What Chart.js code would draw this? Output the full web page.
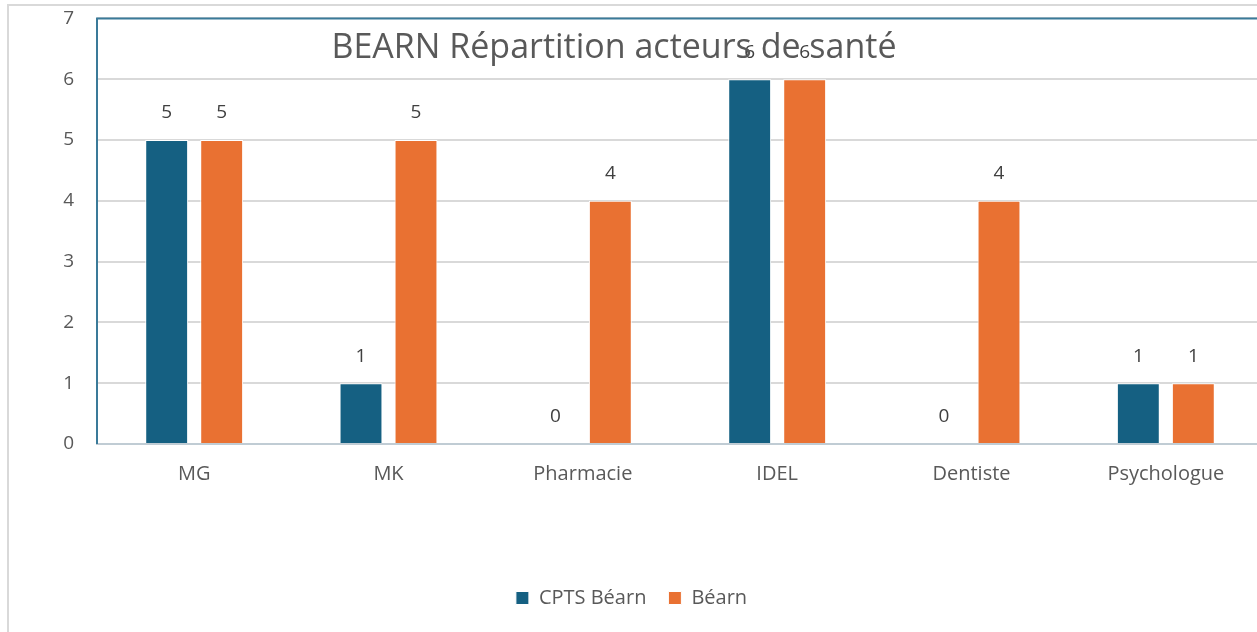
<!DOCTYPE html>
<html>
<head>
<meta charset="utf-8">
<script src="https://cdn.jsdelivr.net/npm/chart.js@4"></script>
<style>
    html, body { margin: 0; padding: 0; background: #fff; overflow: hidden; }
    #frame {
        position: absolute; left: 7px; top: 4px; width: 1300px; height: 700px;
        border-left: 2px solid #d9d9d9; border-top: 2px solid #d9d9d9;
    }
    /* shifted up to pull the plot area top to y=18 */
    #wrap { position: absolute; left: 0; top: -16px; width: 1270px; height: 648px; }
</style>
</head>
<body>
<div id="frame"></div>
<div id="wrap"><canvas id="chart" width="1270" height="648"></canvas></div>
<script>
// data
var categories = ["MG", "MK", "Pharmacie", "IDEL", "Dentiste", "Psychologue"];
var cptsBearn = [5, 1, 0, 6, 0, 1];
var bearn = [5, 5, 4, 6, 4, 1];
var seriesNames = ["CPTS Béarn", "Béarn"];
var chartTitle = "BEARN Répartition acteurs de santé";

var textGrey = "#595959";
var fontFam = "'Open Sans', 'Liberation Sans', Arial, sans-serif";

// value labels above each bar
var valueLabels = {
    id: "valueLabels",
    afterDatasetsDraw: function(chart) {
        var ctx = chart.ctx;
        ctx.save();
        ctx.font = "19px " + fontFam;
        ctx.fillStyle = "#404040";
        ctx.textAlign = "center";
        ctx.textBaseline = "middle";
        chart.data.datasets.forEach(function(ds, i) {
            chart.getDatasetMeta(i).data.forEach(function(bar, j) {
                ctx.fillText(String(ds.data[j]), bar.x, bar.y - 27);
            });
        });
        ctx.restore();
    }
};

// title drawn inside the plot area, over the bars
var innerTitle = {
    id: "innerTitle",
    afterDraw: function(chart) {
        var ctx = chart.ctx;
        ctx.save();
        ctx.font = "34px " + fontFam;
        ctx.fillStyle = textGrey;
        ctx.textAlign = "center";
        ctx.textBaseline = "middle";
        ctx.fillText(chartTitle, 614, chart.chartArea.top + 30);
        ctx.restore();
    }
};

// blue frame on left and top of the plot area
var plotFrame = {
    id: "plotFrame",
    afterDraw: function(chart) {
        var a = chart.chartArea, ctx = chart.ctx;
        ctx.save();
        ctx.strokeStyle = "#3a7a99";
        ctx.lineWidth = 2;
        ctx.beginPath();
        ctx.moveTo(a.left, a.bottom);
        ctx.lineTo(a.left, a.top);
        ctx.lineTo(a.right + 20, a.top);
        ctx.stroke();
        ctx.restore();
    }
};

var ctx = document.getElementById("chart").getContext("2d");
new Chart(ctx, {
    type: "bar",
    data: {
        labels: categories,
        datasets: [
            {
                label: seriesNames[0],
                data: cptsBearn,
                backgroundColor: "#156082",
                borderColor: "#ffffff",
                borderWidth: 1,
                barPercentage: 0.78,
                categoryPercentage: 0.566
            },
            {
                label: seriesNames[1],
                data: bearn,
                backgroundColor: "#E97132",
                borderColor: "#ffffff",
                borderWidth: 1,
                barPercentage: 0.78,
                categoryPercentage: 0.566
            }
        ]
    },
    options: {
        responsive: false,
        animation: false,
        layout: { padding: { left: 0, right: 7, top: 2, bottom: 14 } },
        scales: {
            x: {
                grid: { display: false, drawTicks: false },
                border: { color: "#c0ccd4", width: 2 },
                ticks: { color: textGrey, font: { family: fontFam, size: 20 }, padding: 18 },
                afterFit: function(scale) { scale.height = 122; }
            },
            y: {
                min: 0,
                max: 7,
                grid: { color: "#d9d9d9", lineWidth: 2, drawTicks: false },
                border: { display: false },
                ticks: { stepSize: 1, color: textGrey, font: { family: fontFam, size: 19 }, padding: 23 },
                afterFit: function(scale) { scale.width = 97; }
            }
        },
        plugins: {
            legend: {
                position: "bottom",
                labels: {
                    color: textGrey,
                    font: { family: fontFam, size: 20 },
                    boxWidth: 13,
                    boxHeight: 13,
                    padding: 22
                }
            },
            tooltip: { enabled: false }
        }
    },
    plugins: [valueLabels, plotFrame, innerTitle]
});
</script>
</body>
</html>
